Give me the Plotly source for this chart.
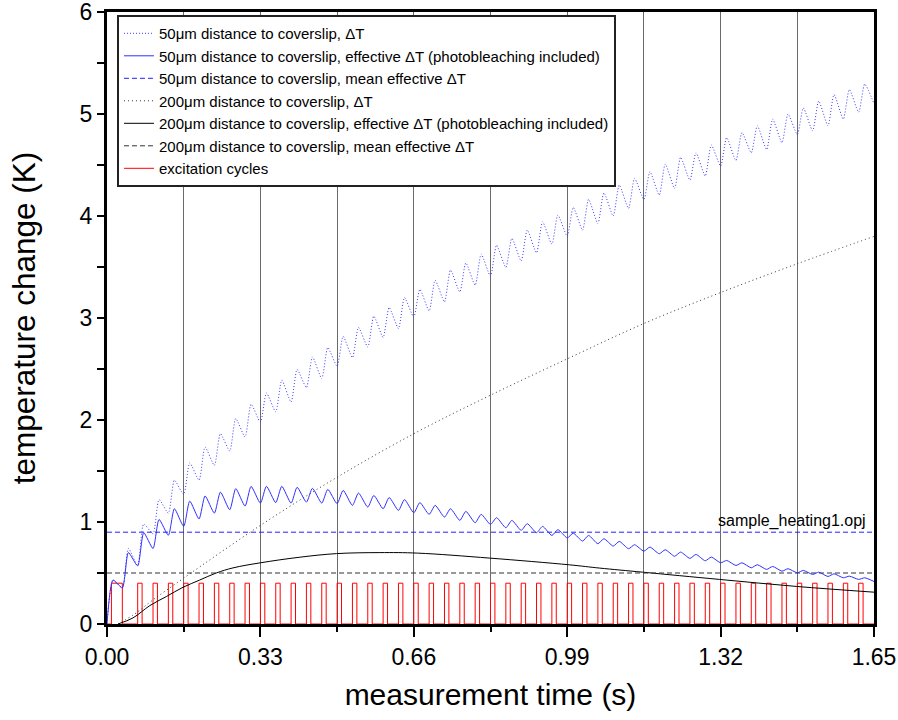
import plotly.graph_objects as go

# ---------------- data ----------------
# start time of each excitation cycle (s)
pulse_start = [0.000, 0.033, 0.066, 0.099, 0.132, 0.165, 0.198, 0.231, 0.264, 0.297,
               0.330, 0.363, 0.396, 0.429, 0.462, 0.495, 0.528, 0.561, 0.594, 0.627,
               0.660, 0.693, 0.726, 0.759, 0.792, 0.825, 0.858, 0.891, 0.924, 0.957,
               0.990, 1.023, 1.056, 1.089, 1.122, 1.155, 1.188, 1.221, 1.254, 1.287,
               1.320, 1.353, 1.386, 1.419, 1.452, 1.485, 1.518, 1.551, 1.584, 1.617]
pulse_width = 0.0095   # illumination time per cycle (s)
peak_delay = 0.013     # time after cycle start at which Delta T peaks (s)
t_end = 1.65

# 50 um: Delta T at cycle start (minimum) and at its peak (maximum)
dt50_min = [0.0, 0.355, 0.574, 0.885, 1.087, 1.27, 1.41, 1.555, 1.696, 1.833,
            1.98, 2.08, 2.177, 2.318, 2.406, 2.527, 2.612, 2.716, 2.81, 2.897,
            3.008, 3.07, 3.158, 3.256, 3.322, 3.41, 3.496, 3.56, 3.639, 3.724,
            3.803, 3.862, 3.927, 4.0, 4.075, 4.163, 4.205, 4.271, 4.352, 4.392,
            4.49, 4.544, 4.62, 4.652, 4.719, 4.80, 4.835, 4.885, 4.95, 5.018]
dt50_max = [0.43, 0.74, 0.98, 1.22, 1.41, 1.58, 1.735, 1.866, 2.014, 2.154,
            2.265, 2.39, 2.495, 2.618, 2.71, 2.82, 2.907, 3.018, 3.103, 3.20,
            3.28, 3.37, 3.47, 3.54, 3.626, 3.714, 3.78, 3.862, 3.943, 4.009,
            4.084, 4.163, 4.228, 4.303, 4.369, 4.434, 4.509, 4.575, 4.62, 4.696,
            4.768, 4.818, 4.885, 4.95, 5.0, 5.06, 5.127, 5.19, 5.24, 5.293]
dt50_last = 5.10

# 50 um: effective Delta T (photobleaching included)
eff50_min = [0.0, 0.355, 0.57, 0.74, 0.87, 0.957, 1.03, 1.087, 1.12, 1.156,
             1.185, 1.19, 1.185, 1.195, 1.185, 1.18, 1.163, 1.146, 1.13, 1.114,
             1.09, 1.075, 1.048, 1.016, 0.993, 0.976, 0.944, 0.918, 0.895, 0.868,
             0.844, 0.813, 0.787, 0.764, 0.738, 0.714, 0.689, 0.664, 0.643, 0.62,
             0.60, 0.574, 0.551, 0.535, 0.518, 0.502, 0.486, 0.466, 0.453, 0.437]
eff50_max = [0.43, 0.70, 0.895, 1.025, 1.13, 1.205, 1.255, 1.293, 1.327, 1.349,
             1.35, 1.35, 1.34, 1.33, 1.32, 1.31, 1.284, 1.26, 1.24, 1.22,
             1.19, 1.163, 1.13, 1.104, 1.075, 1.042, 1.016, 0.983, 0.957, 0.925,
             0.89, 0.868, 0.836, 0.81, 0.777, 0.754, 0.728, 0.705, 0.682, 0.656,
             0.623, 0.60, 0.581, 0.564, 0.542, 0.525, 0.508, 0.492, 0.469, 0.453]
eff50_last = 0.417
mean_eff50 = 0.9

# 200 um curves (smooth)
t200 = [0.0237, 0.06, 0.1, 0.165, 0.33, 0.4935, 0.666, 0.8235, 0.995, 1.155, 1.318, 1.4838, 1.65]
dt200 = [0.0, 0.1, 0.24, 0.45, 0.967, 1.435, 1.88, 2.24, 2.61, 2.946, 3.246, 3.53, 3.80]
t200_eff = [0.0237, 0.056, 0.092, 0.128, 0.1635, 0.199, 0.235, 0.271, 0.33, 0.415,
            0.4935, 0.587, 0.668, 0.8235, 0.995, 1.06, 1.1525, 1.318, 1.4838, 1.65]
eff200 = [0.0, 0.06, 0.18, 0.27, 0.36, 0.43, 0.50, 0.55, 0.60, 0.655,
          0.69, 0.70, 0.695, 0.646, 0.58, 0.548, 0.508, 0.437, 0.368, 0.312]
mean_eff200 = 0.5

excitation_level = 0.4
# drawn excitation windows (the first one as it appears in the reference)
exc_on = [0.0095] + pulse_start[2:]
exc_off = [0.033] + [s + pulse_width for s in pulse_start[2:]]

x_ticks = [0.00, 0.33, 0.66, 0.99, 1.32, 1.65]
y_ticks = [0, 1, 2, 3, 4, 5, 6]

# ---------------- build traces ----------------
def sawtooth(mins, maxs, last):
    xs, ys = [], []
    for s, lo, hi in zip(pulse_start, mins, maxs):
        xs += [s, s + peak_delay]
        ys += [lo, hi]
    xs.append(t_end)
    ys.append(last)
    return xs, ys

x50, y50 = sawtooth(dt50_min, dt50_max, dt50_last)
xe50, ye50 = sawtooth(eff50_min, eff50_max, eff50_last)

xr, yr = [0.0], [0.0]
for a, b in zip(exc_on, exc_off):
    xr += [a, a, b, b]
    yr += [0.0, excitation_level, excitation_level, 0.0]
xr.append(t_end)
yr.append(0.0)

fig = go.Figure()
fig.add_trace(go.Scatter(x=xr, y=yr, mode="lines", name="excitation cycles",
                         line=dict(color="#ff0000", width=1), legendrank=7))
fig.add_trace(go.Scatter(x=t200, y=dt200, mode="lines", line_shape="spline",
                         name="200μm distance to coverslip, ΔT",
                         line=dict(color="#333333", width=1, dash="1px,3px"), legendrank=4))
fig.add_trace(go.Scatter(x=t200_eff, y=eff200, mode="lines", line_shape="spline",
                         name="200μm distance to coverslip, effective ΔT (photobleaching included)",
                         line=dict(color="#000000", width=1), legendrank=5))
fig.add_trace(go.Scatter(x=[0, t_end], y=[mean_eff200, mean_eff200], mode="lines",
                         name="200μm distance to coverslip, mean effective ΔT",
                         line=dict(color="#333333", width=1, dash="5px,3px"), legendrank=6))
fig.add_trace(go.Scatter(x=x50, y=y50, mode="lines", line_shape="spline",
                         name="50μm distance to coverslip, ΔT",
                         line=dict(color="#3a3aff", width=1, dash="1px,2px", smoothing=0.6), legendrank=1))
fig.add_trace(go.Scatter(x=xe50, y=ye50, mode="lines", line_shape="spline",
                         name="50μm distance to coverslip, effective ΔT (photobleaching included)",
                         line=dict(color="#3030ff", width=1, smoothing=0.6), legendrank=2))
fig.add_trace(go.Scatter(x=[0, t_end], y=[mean_eff50, mean_eff50], mode="lines",
                         name="50μm distance to coverslip, mean effective ΔT",
                         line=dict(color="#2020ff", width=1, dash="5px,3px"), legendrank=3))

font_family = "Liberation Sans, Arial, sans-serif"
tick_font = dict(family=font_family, size=23, color="black")
title_font = dict(family=font_family, size=30, color="black")

fig.update_layout(
    width=898, height=720,
    margin=dict(l=107, r=24, t=12, b=96, autoexpand=False),
    paper_bgcolor="white", plot_bgcolor="white",
    showlegend=True,
    legend=dict(x=0.013, y=0.995, xanchor="left", yanchor="top",
                bgcolor="white", bordercolor="#222222", borderwidth=2,
                font=dict(family=font_family, size=15, color="black"),
                traceorder="normal"),
    xaxis=dict(range=[-1e-6, t_end + 1e-6], tickvals=x_ticks, ticktext=[f"{v:.2f}" for v in x_ticks],
               ticks="outside", ticklen=10, tickwidth=2, tickcolor="black",
               showline=True, linewidth=3, linecolor="black", mirror=True,
               showgrid=True, gridcolor="#6a6a6a", gridwidth=1,
               minor=dict(dtick=0.165, tick0=0, ticks="outside", ticklen=5, tickwidth=2,
                          tickcolor="black", showgrid=True, gridcolor="#6a6a6a", gridwidth=1),
               zeroline=False, layer="below traces", automargin=False,
               ticklabeloverflow="allow",
               tickfont=tick_font,
               title=dict(text="measurement time (s)", font=title_font, standoff=16)),
    yaxis=dict(range=[-1e-6, 6 + 1e-6], tickvals=y_ticks,
               ticks="outside", ticklen=7, tickwidth=2, tickcolor="black",
               showline=True, linewidth=3, linecolor="black", mirror=True,
               showgrid=False, zeroline=False, automargin=False,
               ticklabeloverflow="allow",
               minor=dict(dtick=0.5, ticks="outside", ticklen=7, tickwidth=2, tickcolor="black"),
               tickfont=tick_font,
               title=dict(text="temperature change (K)",
                          font=dict(family=font_family, size=31.5, color="black"), standoff=35)),
)

fig.add_annotation(x=0.992, xref="paper", y=mean_eff50, yref="y", yshift=0,
                   text="sample_heating1.opj", showarrow=False,
                   xanchor="right", yanchor="bottom",
                   font=dict(family=font_family, size=16, color="black"))

fig.write_html("out.html")
